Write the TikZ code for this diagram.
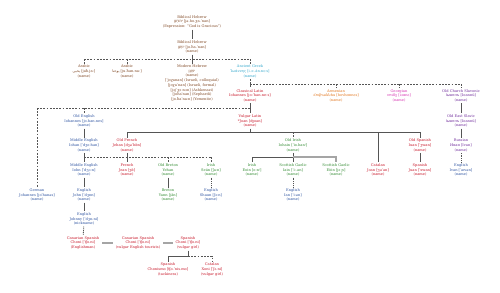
\documentclass[tikz,border=0pt]{standalone}
\usepackage{fontspec}
\setmainfont{DejaVu Serif}
\newfontfamily\hebfont[Script=Hebrew]{Liberation Sans}
\newfontfamily\arabfont[Script=Arabic]{DejaVu Sans}
\newfontfamily\dvsans{DejaVu Sans}
\TeXXeTstate=1
\definecolor{heb}{RGB}{128,72,36}
\definecolor{grk}{RGB}{52,168,204}
\definecolor{lat}{RGB}{200,22,40}
\definecolor{eng}{RGB}{44,82,160}
\definecolor{celt}{RGB}{48,138,48}
\definecolor{armc}{RGB}{226,118,30}
\definecolor{geoc}{RGB}{214,48,176}
\definecolor{slav}{RGB}{112,44,156}
\definecolor{linegray}{RGB}{85,85,85}
\definecolor{lightline}{RGB}{165,165,165}
\begin{document}
\begin{tikzpicture}[x=1pt,y=-1pt,
  lang/.style={align=center, inner sep=1pt, font=\fontsize{3.6}{4.7}\selectfont},
  conn/.style={draw=linegray, line width=0.9pt},
  dconn/.style={draw=linegray, line width=0.6pt, dash pattern=on 1.8pt off 1.4pt},
  dotconn/.style={draw=linegray, line width=0.9pt, dash pattern=on 0.9pt off 0.9pt},
  lconn/.style={draw=lightline, line width=1.6pt}]
\useasboundingbox (0,0) rectangle (500,292);
\fill[white] (0,0) rectangle (500,292);
\coordinate (b59) at (0,59);
\coordinate (b84) at (0,84);
\coordinate (b108) at (0,108);
\coordinate (b132) at (0,132);
\coordinate (b157) at (0,157);
\coordinate (b256) at (0,256);
% Hebrew / Semitic
\node[lang, text=heb] (bh1) at (192,22) {Biblical Hebrew\\{\hebfont\beginR יְהוֹחָנָן\endR} [jə.ho.χa.ˈnan]\\(Expression: “God is Gracious”)};
\node[lang, text=heb] (bh2) at (192,47) {Biblical Hebrew\\{\hebfont\beginR יוֹחָנָן\endR} [jo.ħa.ˈnan]\\(name)};
\node[lang, text=heb] (ar1) at (84,71.3) {Arabic\\{\arabfont\beginR يحيى\endR} [jaħ.jaː]\\(name)};
\node[lang, text=heb] (ar2) at (127,71.3) {Arabic\\{\arabfont\beginR يوحنا\endR} [ju.ħan.naː]\\(name)};
\node[lang, text=heb] (mh) at (192,83) {Modern Hebrew\\{\hebfont\beginR יוֹחָנָן\endR}\\(name)\\{}[ˈjoχanan] (Israeli, colloquial)\\{}[joχaˈnan] (Israeli, formal)\\{}[jɔjˈχɔːnɔn] (Ashkenazi)\\{}[joħaˈnan] (Sephardi)\\{}[jo.ħaˈnaːn] (Yemenite)};
\node[lang, text=grk] (ag) at (250,71.3) {Ancient Greek\\Ἰωάννης [i.ɔː.án.nɛːs]\\(name)};
% Latin & others
\node[lang, text=lat] (cl) at (250,95.7) {Classical Latin\\Iohannes [joːˈhan.neːs]\\(name)};
\node[lang, text=armc] (arm) at (336,95.7) {Armenian\\{\dvsans Հովհաննես} [hovhɑnnɛs]\\(name)};
\node[lang, text=geoc] (geo) at (399,95.7) {Georgian\\{\dvsans იოანე} [iɔɑnɛ]\\(name)};
\node[lang, text=slav] (ocs) at (461,95.7) {Old Church Slavonic\\{\dvsans Іѡаннъ} [Ioannŭ]\\(name)};
\node[lang, text=slav] (oes) at (461,121) {Old East Slavic\\{\dvsans Іѡаннъ} [Ioannŭ]\\(name)};
\node[lang, text=lat] (vl) at (250,121) {Vulgar Latin\\*Joan [ʤoan]\\(name)};
\node[lang, text=eng] (oe) at (84,121) {Old English\\Iohannes [jo.han.nes]\\(name)};
% row 145
\node[lang, text=eng] (me1) at (84,145.3) {Middle English\\Iohan [ˈdʒoːhan]\\(name)};
\node[lang, text=lat] (ofr) at (127,145.3) {Old French\\Jehan [dʒəˈhɑ̃n]\\(name)};
\node[lang, text=celt] (oir) at (293,145.3) {Old Irish\\Iohain [ˈio.hanʲ]\\(name)};
\node[lang, text=lat] (osp) at (420,145.3) {Old Spanish\\Iuan [ˈʒwan]\\(name)};
\node[lang, text=slav] (rus) at (461,145.3) {Russian\\Иван [Ivan]\\(name)};
% row 170
\node[lang, text=eng] (me2) at (84,170) {Middle English\\Iohn [ˈdʒɔːn]\\(name)};
\node[lang, text=lat] (fr) at (127,170) {French\\Jean [ʒɑ̃]\\(name)};
\node[lang, text=celt] (obr) at (168,170) {Old Breton\\Yehan\\(name)};
\node[lang, text=celt] (iri1) at (211,170) {Irish\\Seán [ʃaːn]\\(name)};
\node[lang, text=celt] (iri2) at (252,170) {Irish\\Eoin [oːnʲ]\\(name)};
\node[lang, text=celt] (sg1) at (293,170) {Scottish Gaelic\\Iain [ˈiː.an]\\(name)};
\node[lang, text=celt] (sg2) at (336,170) {Scottish Gaelic\\Eòin [jɔːɲ]\\(name)};
\node[lang, text=lat] (cat) at (378,170) {Catalan\\Joan [ʒuˈan]\\(name)};
\node[lang, text=lat] (sp) at (420,170) {Spanish\\Juan [ˈxwan]\\(name)};
\node[lang, text=eng] (eniv) at (461,170) {English\\Ivan [ˈaɪvən]\\(name)};
% row 195
\node[lang, text=eng] (ger) at (37,195) {German\\Johannes [joˈhanəs]\\(name)};
\node[lang, text=eng] (enj) at (84,195) {English\\John [ˈdʒɒn]\\(name)};
\node[lang, text=celt] (bre) at (168,195) {Breton\\Yann [jãn]\\(name)};
\node[lang, text=eng] (ensh) at (211,195) {English\\Shaun [ʃɔːn]\\(name)};
\node[lang, text=eng] (enian) at (293,195) {English\\Ian [ˈiːən]\\(name)};
% bottom
\node[lang, text=eng] (enjy) at (84,219) {English\\Johnny [ˈdʒɒ.ni]\\(nickname)};
\node[lang, text=lat] (can1) at (83,243) {Canarian Spanish\\Choni [ˈʧo.ni]\\(Englishman)};
\node[lang, text=lat] (can2) at (138,243) {Canarian Spanish\\Choni [ˈʧo.ni]\\(vulgar English tourists)};
\node[lang, text=lat] (spch) at (188,243) {Spanish\\Choni [ˈʧo.ni]\\(vulgar girl)};
\node[lang, text=lat] (spchm) at (168,269.5) {Spanish\\Chonismo [ʧo.ˈnis.mo]\\(tackiness)};
\node[lang, text=lat] (catx) at (212,269.5) {Catalan\\Xoni [ˈʃɔ.ni]\\(vulgar girl)};
% connectors
\draw[conn] (bh1) -- (bh2);
\draw[dconn] (ar1.north |- b59) -- (ag.north |- b59);
\draw[dconn] (ar1.north |- b59) -- (ar1.north);
\draw[dconn] (ar2.north |- b59) -- (ar2.north);
\draw[dconn] (ag.north |- b59) -- (ag.north);
\draw[conn] (bh2) -- (mh);
\draw[dconn] (ag.south) -- (ag.south |- cl.north);
\draw[dconn] (ag.south |- b84) -- (ocs.north |- b84);
\draw[dconn] (arm.north |- b84) -- (arm.north);
\draw[dconn] (geo.north |- b84) -- (geo.north);
\draw[dconn] (ocs.north |- b84) -- (ocs.north);
\draw[conn] (cl) -- (vl);
\draw[dconn] (ger.north |- b108) -- (cl.south |- b108);
\draw[dconn] (ger.north |- b108) -- (ger.north);
\draw[dconn] (oe.north |- b108) -- (oe.north);
\draw[conn] (oe) -- (me1);
\draw[conn] (me1) -- (me2);
\draw[conn] (me2) -- (enj);
\draw[conn] (enj) -- (enjy);
\draw[dotconn] (enjy) -- (can1);
\draw[lconn, shorten <=2pt, shorten >=2pt] (can1) -- (can2);
\draw[lconn, shorten <=2pt, shorten >=2pt] (can2) -- (spch);
\draw[conn] (spch.south) -- (spch.south |- b256);
\draw[conn] (spch.south |- b256) -- (spchm.north |- b256) -- (spchm.north);
\draw[dconn] (spch.south |- b256) -- (catx.north |- b256) -- (catx.north);
\draw[conn] (vl.south) -- (vl.south |- b132);
\draw[conn] (ofr.north |- b132) -- (osp.north |- b132);
\draw[conn] (ofr.north |- b132) -- (ofr.north);
\draw[conn] (cat.north |- b132) -- (cat.north);
\draw[conn] (osp.north |- b132) -- (osp.north);
\draw[dconn] (oir.north |- b132) -- (oir.north);
\draw[dconn] (me2.north |- b157) -- (iri1.north |- b157);
\draw[dconn] (obr.north |- b157) -- (obr.north);
\draw[dconn] (iri1.north |- b157) -- (iri1.north);
\draw[conn] (ofr) -- (fr);
\draw[conn] (obr) -- (bre);
\draw[dotconn] (iri1) -- (ensh);
\draw[conn] (oir.south) -- (oir.south |- b157);
\draw[conn] (iri2.north |- b157) -- (sg1.north |- b157);
\draw[conn] (iri2.north |- b157) -- (iri2.north);
\draw[conn] (sg1.north |- b157) -- (sg1.north);
\draw[lconn] (sg1.north |- b157) -- (sg2.north |- b157) -- (sg2.north);
\draw[dotconn] (sg1) -- (enian);
\draw[conn] (osp) -- (sp);
\draw[conn] (ocs) -- (oes);
\draw[conn] (oes) -- (rus);
\draw[dotconn] (rus) -- (eniv);
\end{tikzpicture}
\end{document}
